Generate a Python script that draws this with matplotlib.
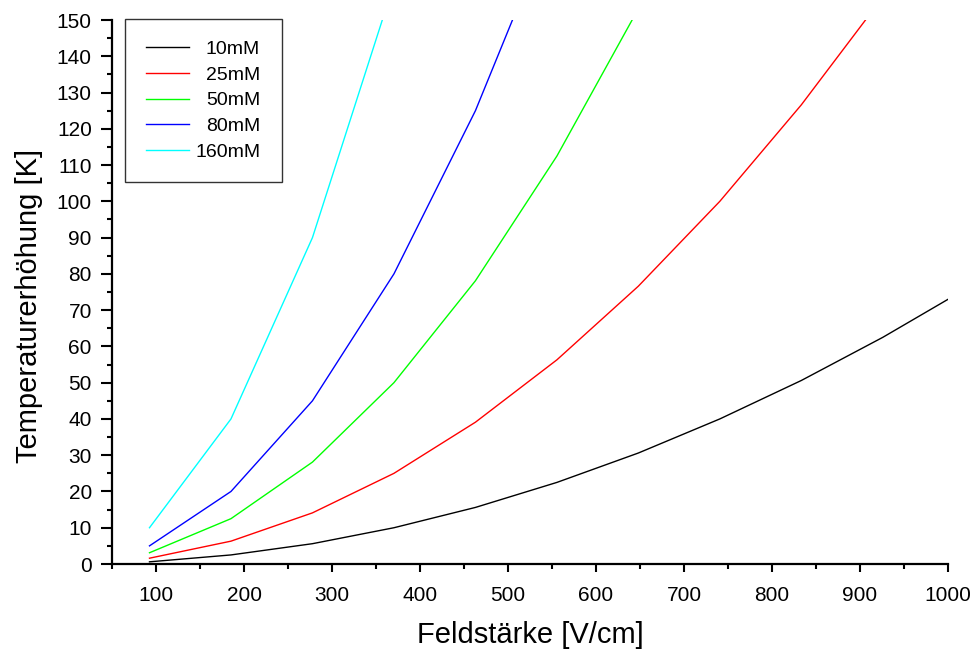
import matplotlib.pyplot as plt
from matplotlib.ticker import MultipleLocator

plt.rcParams['font.family'] = ['Liberation Sans', 'DejaVu Sans']

# field strength in V/cm (100 V steps over 1.08 cm)
feld = [92.6, 185.2, 277.8, 370.4, 463.0, 555.6, 648.1, 740.7, 833.3, 925.9, 1018.5]

# temperature rise [K] per concentration
t_10mM = [0.6, 2.5, 5.6, 10.0, 15.6, 22.5, 30.6, 40.0, 50.6, 62.5, 75.6]
t_25mM = [1.6, 6.3, 14.1, 25.0, 39.1, 56.3, 76.6, 100.0, 126.6, 156.3]
t_50mM = [3.1, 12.5, 28.1, 50.0, 78.1, 112.5, 153.1]
t_80mM = [5.0, 20.0, 45.0, 80.0, 125.0, 180.0]
t_160mM = [10.0, 40.0, 90.0, 160.0]

fig = plt.figure(figsize=(9.76, 6.53), dpi=100)
ax = fig.add_axes([112/976, 1 - 564/653, 836/976, 544/653])

ax.plot(feld[:len(t_10mM)], t_10mM, color='black', lw=1.0, label='10mM')
ax.plot(feld[:len(t_25mM)], t_25mM, color='#ff0000', lw=1.0, label='25mM')
ax.plot(feld[:len(t_50mM)], t_50mM, color='#00ff00', lw=1.0, label='50mM')
ax.plot(feld[:len(t_80mM)], t_80mM, color='#0000ff', lw=1.0, label='80mM')
ax.plot(feld[:len(t_160mM)], t_160mM, color='#00ffff', lw=1.0, label='160mM')

ax.set_xlim(50, 1000)
ax.set_ylim(0, 150)
ax.set_xticks(range(100, 1001, 100))
ax.xaxis.set_minor_locator(MultipleLocator(50))
ax.yaxis.set_major_locator(MultipleLocator(10))
ax.yaxis.set_minor_locator(MultipleLocator(5))

for s in ['top', 'right']:
    ax.spines[s].set_visible(False)
for s in ['left', 'bottom']:
    ax.spines[s].set_linewidth(1.6)

ax.tick_params(which='both', direction='out', width=1.5, labelsize=15)
ax.tick_params(axis='y', which='major', length=8, pad=6.5)
ax.tick_params(axis='x', which='major', length=5.5, pad=10)
ax.tick_params(which='minor', length=3.5)

ax.set_xlabel('Feldstärke [V/cm]', fontsize=21, labelpad=12)
ax.set_ylabel('Temperaturerhöhung [K]', fontsize=21, labelpad=10)
ax.yaxis.label.set_y(0.474)

leg = ax.legend(loc='upper left', bbox_to_anchor=(0.0156, 1.002), fontsize=14,
                frameon=True, fancybox=False, edgecolor='black',
                handlelength=2.2, handletextpad=0.3, labelspacing=0.42,
                borderpad=1.1, borderaxespad=0)
leg.get_frame().set_linewidth(1.0)

# right-align the labels inside the legend box
fig.canvas.draw()
renderer = fig.canvas.get_renderer()
widths = [t.get_window_extent(renderer).width for t in leg.get_texts()]
for t, w in zip(leg.get_texts(), widths):
    t.set_position((max(widths) - w, 0))

plt.savefig('out.png', dpi=100)
